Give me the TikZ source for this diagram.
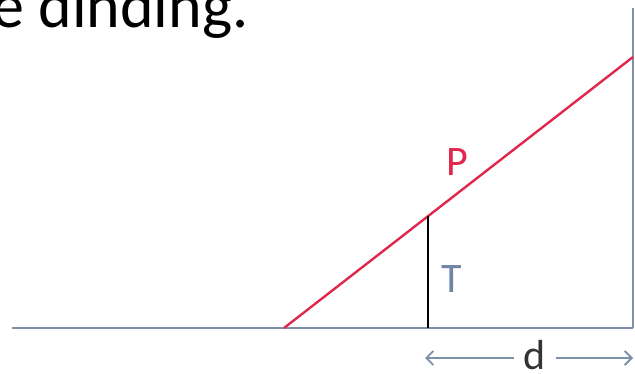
\documentclass[tikz,border=0pt]{standalone}
\usepackage{fontspec}
\setmainfont{Carlito}
\usetikzlibrary{arrows.meta}
\definecolor{baseblue}{HTML}{7D90AA}
\definecolor{pred}{HTML}{E0284E}
\definecolor{tblue}{HTML}{6F86A6}
\begin{document}
\begin{tikzpicture}[x=1pt,y=-1pt,
  lbl/.style={font=\fontsize{42}{46}\selectfont, inner sep=0pt},
  dimarrow/.style={draw=baseblue, line width=1.8pt, -{Straight Barb[length=7pt,width=14pt]}}]
\useasboundingbox (0,0) rectangle (635,374);
\begin{scope}
\clip (0,0) rectangle (635,374);
\node[anchor=base west, inner sep=0pt, font=\fontsize{64}{68}\selectfont] (title) at (-8,28) {e dinding.};
\end{scope}
\coordinate (L) at (12,328);
\coordinate (R) at (633,328);
\coordinate (Rt) at (633,8);
\coordinate (A) at (284,328);
\coordinate (B) at (633,57);
\coordinate (Tb) at (428,328);
\coordinate (Tt) at (428,216);
\draw[baseblue, line width=2.4pt] (L) -- (R);
\draw[baseblue, line width=1.4pt] (R) -- (Rt);
\draw[pred, line width=2.4pt] (A) -- (B);
\draw[black, line width=2.4pt] (Tb) -- (Tt);
\node[lbl, text=pred] (P) at (457,162) {P};
\node[lbl, text=tblue] (T) at (452,279) {T};
\node[lbl, text=black!80, anchor=base] (d) at (535,369) {d};
\coordinate (dl) at (425,358);
\coordinate (dr) at (633,358);
\draw[dimarrow] (d.west |- dl) ++(-10,0) -- (dl);
\draw[dimarrow] (d.east |- dr) ++(10,0) -- (dr);
\end{tikzpicture}
\end{document}
